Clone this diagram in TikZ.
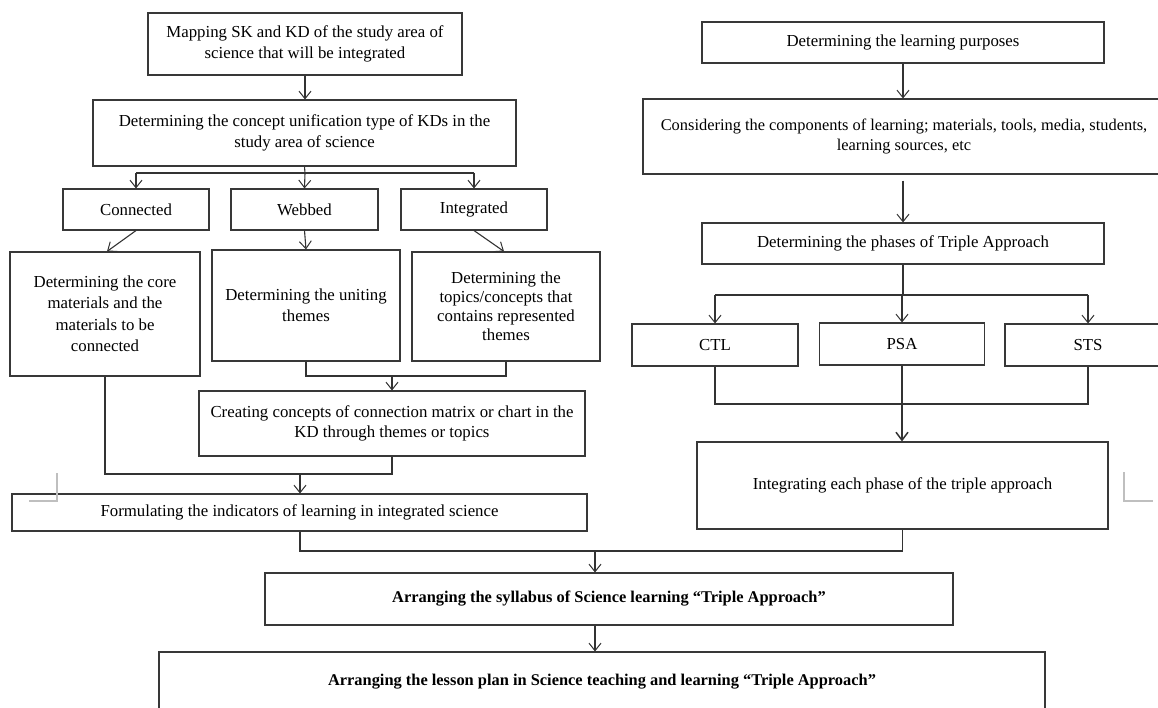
\documentclass[tikz,border=0pt]{standalone}
\usepackage{fontspec}
\setmainfont{Liberation Serif}
\usetikzlibrary{arrows.meta,calc}
\begin{document}
\begin{tikzpicture}[x=1pt,y=-1pt,
  box/.style={draw=black!78, line width=1.1pt, align=center, inner sep=2pt, font=\fontsize{16.8}{20.5}\selectfont},
  bbox/.style={box, font=\fontsize{16.4}{20}\selectfont\bfseries},
  ln/.style={line width=1.1pt, draw=black!80},
  arr/.style={ln, -{Straight Barb[length=7.5pt,width=12pt,line width=1pt]}},
  cropmk/.style={line width=1.2pt, draw=black!25}
]
\useasboundingbox (0,0) rectangle (1158,708);
\clip (0,0) rectangle (1158,708);

% ---------- left column ----------
\node[box, minimum width=314pt, minimum height=62pt] (map) at (305,44)
  {Mapping SK and KD of the study area of\\science that will be integrated};
\node[box, minimum width=423pt, minimum height=66pt] (conc) at (304.5,133)
  {Determining the concept unification type of KDs in the\\study area of science};
\node[box, minimum width=146pt, minimum height=41pt] (conn) at (136,209.5) {Connected};
\node[box, minimum width=147pt, minimum height=41pt] (web) at (304.5,209.5) {Webbed};
\node[box, minimum width=146pt, minimum height=41pt] (integ) at (474,209.5) {Integrated};
\node[box, minimum width=190pt, minimum height=124pt, font=\fontsize{16.8}{21.5}\selectfont] (core) at (105,314)
  {Determining the core\\materials and the\\materials to be\\connected};
\node[box, minimum width=188pt, minimum height=111pt] (unit) at (306,305.5)
  {Determining the uniting\\themes};
\node[box, minimum width=188pt, minimum height=109pt, font=\fontsize{16.8}{19}\selectfont] (topic) at (506,306.5)
  {Determining the\\topics/concepts that\\contains represented\\themes};
\node[box, minimum width=386pt, minimum height=65pt] (creat) at (392,423.5)
  {Creating concepts of connection matrix or chart in the\\KD through themes or topics};
\node[box, minimum width=575pt, minimum height=37pt] (form) at (299.5,512.5)
  {Formulating the indicators of learning in integrated science};

% ---------- right column ----------
\node[box, minimum width=402pt, minimum height=41pt] (purp) at (903,42.5)
  {Determining the learning purposes};
\node[box, minimum width=522pt, minimum height=75pt, font=\fontsize{16.4}{20.5}\selectfont] (comp) at (904,136.5)
  {Considering the components of learning; materials, tools, media, students,\\learning sources, etc};
\node[box, minimum width=402pt, minimum height=41pt] (phase) at (903,243.5)
  {Determining the phases of Triple Approach};
\node[box, minimum width=166pt, minimum height=42pt] (ctl) at (715,345) {CTL};
\node[box, minimum width=165pt, minimum height=42pt] (psa) at (902,344) {PSA};
\node[box, minimum width=166pt, minimum height=42pt] (sts) at (1088,345) {STS};
\node[box, minimum width=411pt, minimum height=87pt] (integr) at (902.5,485.5)
  {Integrating each phase of the triple approach};

% ---------- bottom ----------
\node[bbox, minimum width=688pt, minimum height=52pt] (syl) at (609,599)
  {Arranging the syllabus of Science learning “Triple Approach”};
\node[bbox, minimum width=886pt, minimum height=60pt] (lesson) at (602,682)
  {Arranging the lesson plan in Science teaching and learning “Triple Approach”};

% ---------- junction coordinates ----------
\coordinate (b1) at (305,173);
\coordinate (j1) at (392,376);
\coordinate (j2) at (300,474);
\coordinate (j3) at (595,551);
\coordinate (b2) at (903,295);
\coordinate (j4) at (902,404);

% ---------- connectors, left ----------
\draw[arr] (map.south) -- (conc.north -| map.south);
\draw[ln] (conc.south) -- (b1);
\draw[ln] (conn.north |- b1) -- (integ.north |- b1);
\draw[arr] (conn.north |- b1) -- (conn.north);
\draw[arr] (b1) -- (web.north);
\draw[arr] (integ.north |- b1) -- (integ.north);
\draw[arr] (conn.south) -- ($(core.north)+(2,0)$);
\draw[arr] (web.south) -- (unit.north);
\draw[arr] (integ.south) -- ($(topic.north)+(-2,0)$);
\draw[ln] (unit.south) -- (unit.south |- j1) -- (topic.south |- j1) -- (topic.south);
\draw[arr] (j1) -- (creat.north -| j1);
\draw[ln] (core.south) -- (core.south |- j2) -- (creat.south |- j2) -- (creat.south);
\draw[arr] (j2) -- (form.north -| j2);

% ---------- connectors, right ----------
\draw[arr] (purp.south) -- (comp.north -| purp.south);
\draw[arr] ($(comp.south -| phase.north)+(0,6)$) -- (phase.north);
\draw[ln] (phase.south) -- (b2);
\draw[ln] (ctl.north |- b2) -- (sts.north |- b2);
\draw[arr] (ctl.north |- b2) -- (ctl.north);
\draw[arr] (psa.north |- b2) -- (psa.north);
\draw[arr] (sts.north |- b2) -- (sts.north);
\draw[ln] (ctl.south) -- (ctl.south |- j4) -- (sts.south |- j4) -- (sts.south);
\draw[arr, -{Straight Barb[length=8pt,width=12pt,line width=1.5pt]}] (psa.south) -- (integr.north -| psa.south);

% ---------- connectors, bottom ----------
\draw[ln] (form.south -| j2) -- (j2 |- j3) -- (integr.south |- j3) -- (integr.south);
\draw[arr] (j3) -- (syl.north -| j3);
\draw[arr] (syl.south -| j3) -- (lesson.north -| j3);

% ---------- crop marks ----------
\draw[cropmk] (57,473) -- (57,501) -- (29,501);
\draw[cropmk] (1124,472) -- (1124,501) -- (1153,501);
\end{tikzpicture}
\end{document}
